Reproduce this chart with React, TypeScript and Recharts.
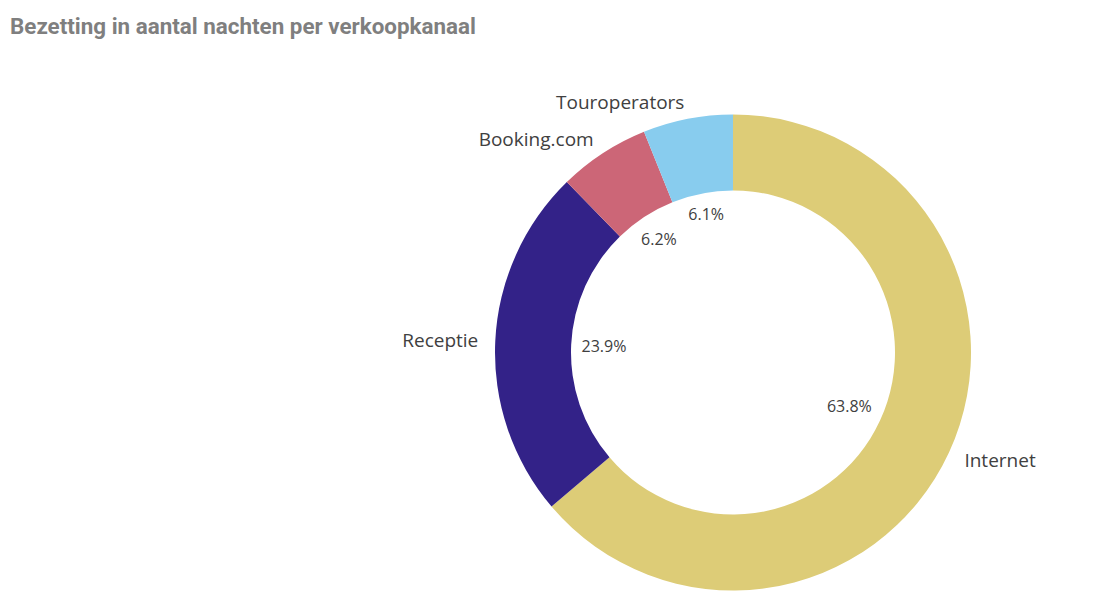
import { Cell, Pie, PieChart } from "recharts";

const channels = ["Internet", "Receptie", "Booking.com", "Touroperators"];
const shares = [63.8, 23.9, 6.2, 6.1];
const colours = ["#DDCC77", "#332288", "#CC6677", "#88CCEE"];

const data = channels.map((name, i) => ({ name, value: shares[i] }));

const NAME_FONT = "19px 'Open Sans'";
const PCT_FONT = "16px 'Open Sans'";

// Rough text box so the percentages can hug the inner edge like the original.
let ctx: CanvasRenderingContext2D | null = null;
function textWidth(text: string, font: string) {
  if (!ctx) ctx = document.createElement("canvas").getContext("2d");
  if (!ctx) return text.length * 8;
  ctx.font = font;
  return ctx.measureText(text).width;
}

const RAD = Math.PI / 180;

function renderLabel(props: any) {
  const { cx, cy, midAngle, innerRadius, outerRadius, name, value } = props;
  const c = Math.cos(-midAngle * RAD);
  const s = Math.sin(-midAngle * RAD);
  const pct = `${Number(value).toFixed(1)}%`;

  // name sits just outside the ring, anchored on the mid-angle ray
  const dOut = outerRadius + 17;
  // percentage inside the hole
  const pw = textWidth(pct, PCT_FONT) / 2;
  const dIn = innerRadius - 10 - pw * Math.abs(c) - 8 * Math.abs(s);

  return (
    <g>
      <text
        x={cx + dOut * c}
        y={cy + dOut * s}
        textAnchor={c >= 0 ? "start" : "end"}
        dominantBaseline="central"
        fill="#404040"
        style={{ font: NAME_FONT }}
      >
        {name}
      </text>
      <text
        x={cx + dIn * c}
        y={cy + dIn * s}
        textAnchor="middle"
        dominantBaseline="central"
        fill="#404040"
        style={{ font: PCT_FONT }}
      >
        {pct}
      </text>
    </g>
  );
}

export default function App() {
  return (
    <div style={{ position: "absolute", left: 0, top: 0, width: 1106, height: 612, background: "#fff" }}>
      <div
        style={{
          position: "absolute",
          left: 10,
          top: 13,
          fontFamily: "Roboto, 'Noto Sans', sans-serif",
          fontWeight: 700,
          fontSize: 22.4,
          color: "#7f7f7f",
          whiteSpace: "nowrap",
        }}
      >
        Bezetting in aantal nachten per verkoopkanaal
      </div>
      <PieChart
        width={1106}
        height={612}
        margin={{ top: 0, right: 0, bottom: 0, left: 0 }}
        style={{ position: "absolute", left: 0, top: 0 }}
      >
        <Pie
          data={data}
          dataKey="value"
          nameKey="name"
          cx={733}
          cy={352.5}
          innerRadius={162}
          outerRadius={238}
          startAngle={90}
          endAngle={-270}
          stroke="none"
          label={renderLabel}
          labelLine={false}
          isAnimationActive={false}
        >
          {data.map((d, i) => (
            <Cell key={d.name} fill={colours[i]} />
          ))}
        </Pie>
      </PieChart>
    </div>
  );
}
